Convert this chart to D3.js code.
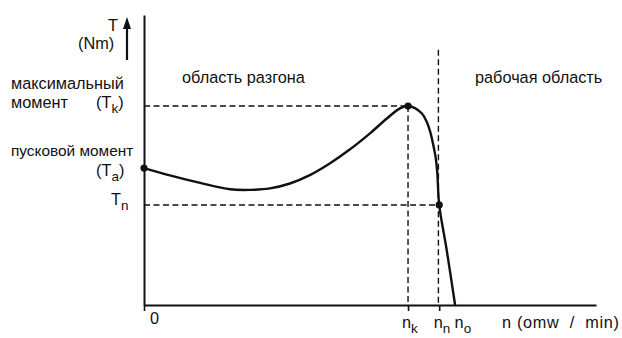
<!DOCTYPE html>
<html><head><meta charset="utf-8">
<script src="https://cdn.jsdelivr.net/npm/d3@7"></script>
<style>
html,body{margin:0;padding:0;background:#fff;}
svg text{font-family:"Liberation Sans",Arial,sans-serif;fill:#111;}
</style>
</head><body>
<svg id="c" width="622" height="338"></svg>
<script>
// speed n (relative units) and torque T (relative units)
const speed  = [0, 8.3, 18.0, 27.6, 34.0, 40.4, 46.8, 53.2, 59.7, 66.1, 72.5, 78.0, 82.1, 84.7, 86.9, 89.1, 90.7, 91.8, 92.8, 93.6, 94.1, 94.7, 97.1, 99.8];
const torque = [47.2, 44.7, 42.1, 39.9, 39.7, 40.2, 41.9, 44.8, 48.9, 53.7, 59.2, 64.4, 67.8, 68.6, 67.9, 66.1, 63.2, 59.8, 55.2, 50.6, 45.3, 34.5, 19.0, 0];
const nMarks = {k: 84.7, n: 94.7, o: 99.8};
const tMarks = {k: 68.6, a: 47.2, n: 34.5};
const xDomain = [0, 145];
const yDomain = [0, 100];
const regionLabels = ["область разгона", "рабочая область"];

const svg = d3.select("#c");
const x = d3.scaleLinear().domain(xDomain).range([144, 596]);
const y = d3.scaleLinear().domain(yDomain).range([305, 15]);
const ink = "#111";

// dashed guide lines
const dash = "6,3.5";
const g = svg.append("g").attr("stroke", ink).attr("stroke-width", 1.4).attr("stroke-dasharray", dash).attr("fill","none");
g.append("line").attr("x1", x(0)).attr("x2", x(nMarks.k)).attr("y1", y(tMarks.k)).attr("y2", y(tMarks.k));
g.append("line").attr("x1", x(nMarks.k)).attr("x2", x(nMarks.k)).attr("y1", y(tMarks.k)).attr("y2", y(0));
g.append("line").attr("x1", x(0)).attr("x2", x(nMarks.n)).attr("y1", y(tMarks.n)).attr("y2", y(tMarks.n));
g.append("line").attr("x1", x(nMarks.n) - 0.8).attr("x2", x(nMarks.n) - 0.8).attr("y1", y(88)).attr("y2", y(0));

// axes
const xAxis = d3.axisBottom(x).tickValues([0, nMarks.k, nMarks.n]).tickFormat("").tickSize(6).tickSizeOuter(0);
const yAxis = d3.axisLeft(y).tickValues([]).tickSizeOuter(0);
const gx = svg.append("g").attr("transform", `translate(0,${y(0)})`).call(xAxis);
const gy = svg.append("g").attr("transform", `translate(${x(0)},0)`).call(yAxis);
[gx, gy].forEach(a => {
  a.selectAll("path").attr("stroke", ink).attr("stroke-width", 2);
  a.selectAll("line").attr("stroke", ink).attr("stroke-width", 1.6);
});

// curve
const pts = speed.map((n, i) => [n, torque[i]]);
svg.append("path").datum(pts)
  .attr("fill", "none").attr("stroke", ink).attr("stroke-width", 2.4)
  .attr("d", d3.line().x(d => x(d[0])).y(d => y(d[1])).curve(d3.curveCatmullRom.alpha(0.5)));

// dots
[[0, tMarks.a], [nMarks.k, tMarks.k], [nMarks.n, tMarks.n]].forEach(d => {
  svg.append("circle").attr("cx", x(d[0])).attr("cy", y(d[1])).attr("r", 3.6).attr("fill", ink);
});

// arrow next to T label
svg.append("line").attr("x1", 127).attr("x2", 127).attr("y1", 26).attr("y2", 60).attr("stroke", ink).attr("stroke-width", 2.2);
svg.append("path").attr("d", "M127,17 L123,29 L131,29 Z").attr("fill", ink);

function label(xp, yp, parts, anchor, size) {
  const t = svg.append("text").attr("x", xp).attr("y", yp).attr("font-size", size || 16.3).attr("text-anchor", anchor || "start");
  let shift = 0;
  parts.forEach(p => {
    if (typeof p === "string") {
      const s = t.append("tspan").text(p);
      if (shift) { s.attr("dy", -shift); shift = 0; }
    } else {
      t.append("tspan").attr("font-size", 13.5).attr("dy", 5).text(p.sub);
      shift = 5;
    }
  });
  return t;
}

label(118, 31, ["T"], "end");
label(78, 49, ["(Nm)"]);
label(11, 89, ["максимальный"]);
label(11, 108, ["момент"]);
label(96, 108, ["(T", {sub: "k"}, ")"]);
label(11, 156, ["пусковой момент"], "start", 15.4);
label(96, 176, ["(T", {sub: "a"}, ")"]);
label(111, 205, ["T", {sub: "n"}]);
label(182, 83, [regionLabels[0]]);
label(475, 83, [regionLabels[1]]);
label(150, 324, ["0"]);
label(x(nMarks.k) - 6, 328, ["n", {sub: "k"}]);
label(x(nMarks.n) - 5.5, 328, ["n", {sub: "n"}]);
label(x(nMarks.o) - 0.5, 328, ["n", {sub: "o"}]);
label(502, 328, ["n (omw  /  min)"]).attr("xml:space", "preserve").style("white-space", "pre")
  .attr("textLength", 117).attr("lengthAdjust", "spacing");
</script>
</body></html>
